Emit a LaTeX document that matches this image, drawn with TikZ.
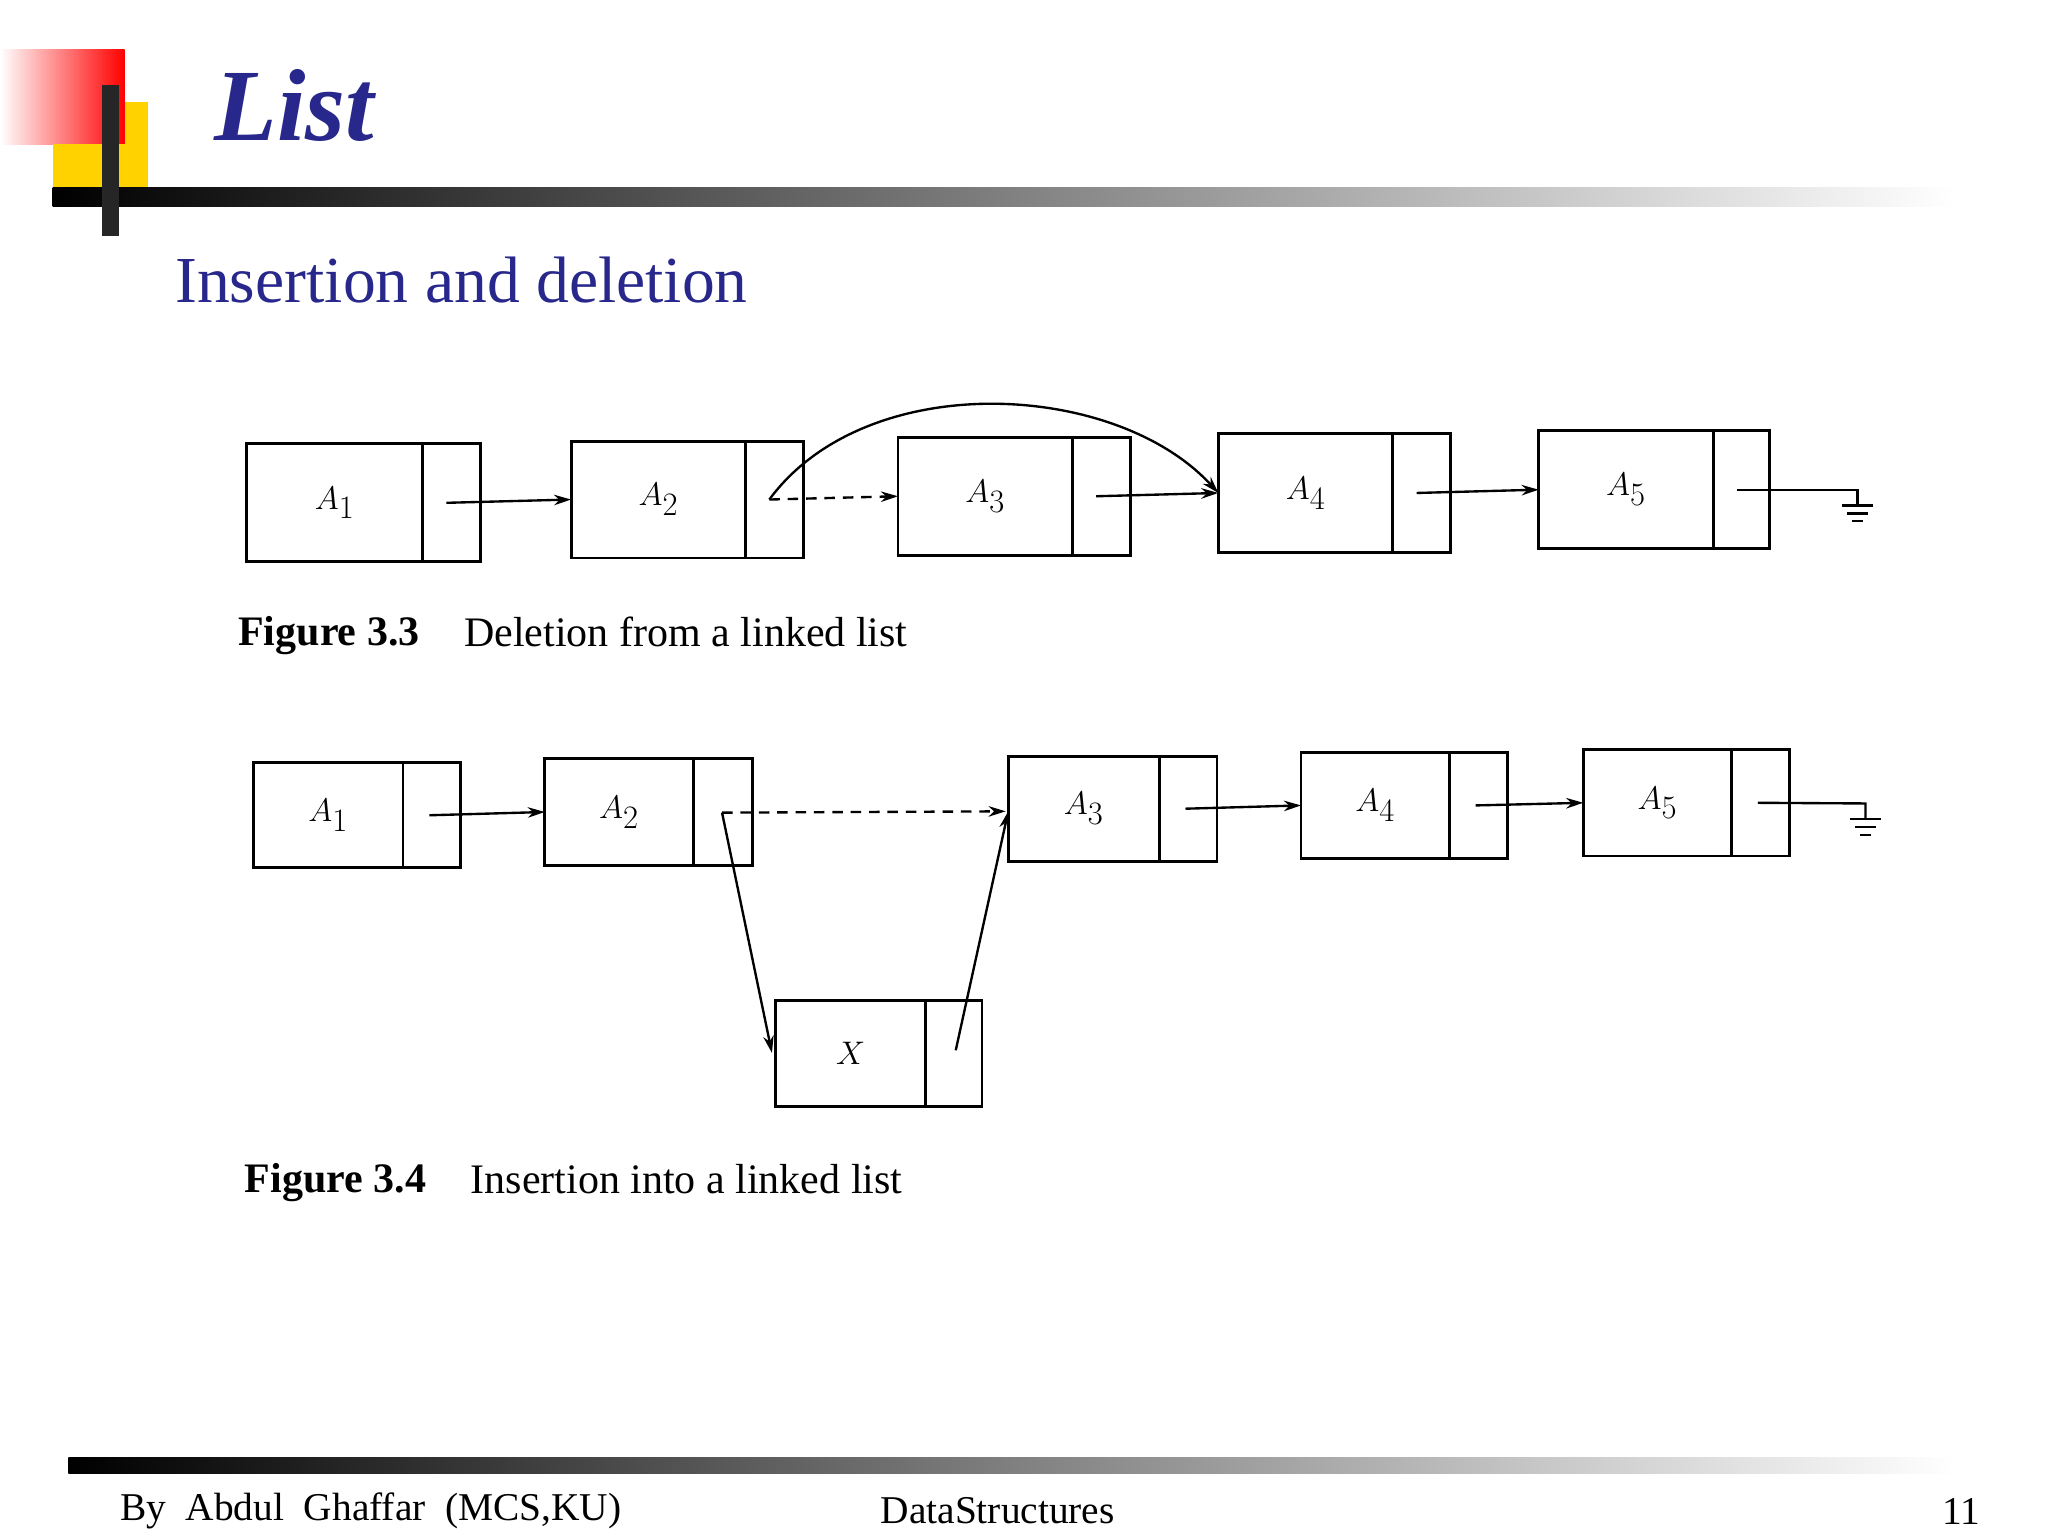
\documentclass[tikz,border=0pt]{standalone}
\usepackage{fontspec}
\setmainfont{Liberation Serif}
\usetikzlibrary{arrows.meta}
\definecolor{navy}{RGB}{40,40,140}
\definecolor{gold}{RGB}{255,210,0}
\begin{document}
\begin{tikzpicture}[x=1pt,y=-1pt,
  cell/.style={draw,line width=2.2pt},
  lab/.style={font=\fontsize{34}{34}\selectfont\itshape},
  arr/.style={line width=1.8pt,-{Stealth[length=13pt,width=8pt]}},
  dsh/.style={dash pattern=on 8pt off 6pt},
  captxt/.style={anchor=west,font=\fontsize{32}{32}\selectfont}]
\useasboundingbox (0,0) rectangle (1560,1170);
\fill[white] (0,0) rectangle (1560,1170);
% logo
\shade[left color=white,right color=red] (0,38) rectangle (95,110);
\fill[gold] (40,110) rectangle (113,155);
\fill[gold] (95,78) rectangle (113,110);
\shade[left color=black,right color=white] (40,143) rectangle (1490,157);
\fill[black!85] (78,65) rectangle (91,180);
\node[anchor=west,text=navy,font=\fontsize{78}{78}\selectfont\bfseries\itshape] (title) at (160,80) {List};
\node[anchor=west,text=navy,font=\fontsize{50}{50}\selectfont] (sub) at (130,213) {Insertion and deletion};
% Figure 3.3
\foreach \n/\xa/\ya/\xb/\yb/\d/\t in {a1/188/338/366/428/322/{A_1},a2/435/336/612/425/568/{A_2},a3/684/333/861/423/817/{A_3},a4/928/330/1105/421/1061/{A_4},a5/1172/328/1348/418/1305/{A_5}}{
  \draw[cell] (\xa,\ya) rectangle (\xb,\yb);
  \draw[cell] (\d,\ya) -- (\d,\yb);
  \node[lab] (\n) at ({(\xa+\d)/2},{(\ya+\yb)/2}) {$\t$};
  \coordinate (\n l) at (\xa,{(\ya+\yb)/2});
  \coordinate (\n p) at ({\d+18},{(\ya+\yb)/2});
}
\draw[arr] (a1p) -- (a2l);
\draw[arr,dsh] (a2p) -- (a3l);
\draw[arr] (a2p) .. controls (660,280) and (850,290) .. (a4l);
\draw[arr] (a3p) -- (a4l);
\draw[arr] (a4p) -- (a5l);
\coordinate (g1) at (1415,373);
\draw[line width=1.8pt] (a5p) -- (g1) -- (1415,385);
\draw[line width=1.8pt] (1403,385)--(1427,385) (1407,391)--(1423,391) (1411,397)--(1419,397);
\node[captxt,font=\fontsize{32}{32}\selectfont\bfseries] (c1) at (178,484) {Figure 3.3};
\node[captxt] (c1b) at (350,481) {Deletion from a linked list};
% Figure 3.4
\foreach \n/\xa/\ya/\xb/\yb/\d/\t in {b1/193/581/351/661/307/{A_1},b2/415/578/573/659/528/{A_2},b3/768/576/927/656/883/{A_3},b4/991/573/1148/654/1104/{A_4},b5/1206/571/1363/652/1319/{A_5},bx/591/762/748/843/705/{X}}{
  \draw[cell] (\xa,\ya) rectangle (\xb,\yb);
  \draw[cell] (\d,\ya) -- (\d,\yb);
  \node[lab] (\n) at ({(\xa+\d)/2},{(\ya+\yb)/2}) {$\t$};
  \coordinate (\n l) at (\xa,{(\ya+\yb)/2});
  \coordinate (\n p) at ({\d+20},{(\ya+\yb)/2});
}
\draw[arr] (b1p) -- (b2l);
\coordinate (b2s) at (550,619);
\draw[arr,dsh] (b2s) -- (766,618);
\draw[arr] (b2s) -- (588,802);
\draw[arr] (728,800) -- (768,618);
\draw[arr] (b3p) -- (b4l);
\draw[arr] (b4p) -- (b5l);
\coordinate (g2) at (1421,612);
\draw[line width=1.8pt] (b5p) -- (g2) -- (1421,624);
\draw[line width=1.8pt] (1409,624)--(1433,624) (1413,630)--(1429,630) (1417,636)--(1425,636);
\node[captxt,font=\fontsize{32}{32}\selectfont\bfseries] (c2) at (183,901) {Figure 3.4};
\node[captxt] (c2b) at (355,898) {Insertion into a linked list};
% footer
\shade[left color=black,right color=white] (52,1110) rectangle (1490,1122);
\node[anchor=west,font=\fontsize{30}{30}\selectfont] (f1) at (88,1151) {By\ \ Abdul\ \ Ghaffar\ \ (MCS,KU)};
\node[font=\fontsize{30}{30}\selectfont] (f2) at (760,1151) {DataStructures};
\node[anchor=east,font=\fontsize{30}{30}\selectfont] (f3) at (1512,1151) {11};
\end{tikzpicture}
\end{document}
